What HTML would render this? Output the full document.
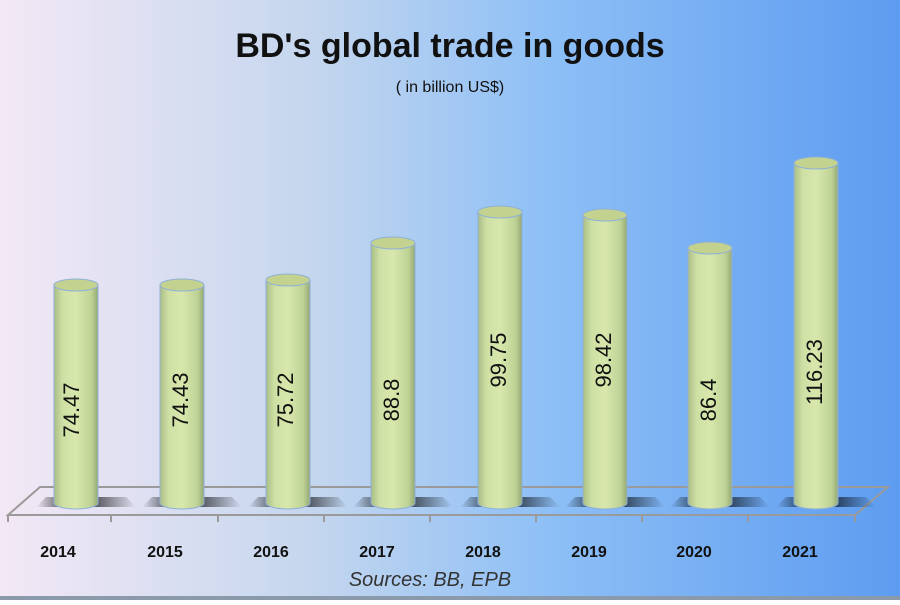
<!DOCTYPE html>
<html><head><style>
body{margin:0;width:900px;height:600px;overflow:hidden}
</style></head><body>
<svg width="900" height="600" xmlns="http://www.w3.org/2000/svg" font-family="Liberation Sans, sans-serif">
<defs>
<linearGradient id="bg" x1="0" x2="1" y1="0" y2="0">
<stop offset="0" stop-color="#f3e8f5"/><stop offset="0.35" stop-color="#c4d6ee"/><stop offset="0.6" stop-color="#8fc0f6"/><stop offset="1" stop-color="#5d9cf0"/></linearGradient>
<linearGradient id="cyl" x1="0" x2="1">
<stop offset="0" stop-color="#a9bd86"/><stop offset="0.2" stop-color="#cfe0a4"/><stop offset="0.5" stop-color="#d8e8ad"/><stop offset="0.85" stop-color="#bfd295"/><stop offset="1" stop-color="#94a873"/></linearGradient>
<linearGradient id="sh" x1="0" x2="1"><stop offset="0" stop-color="#000" stop-opacity="0"/><stop offset="0.4" stop-color="#000" stop-opacity="0.9"/><stop offset="1" stop-color="#000" stop-opacity="0"/></linearGradient>
</defs>
<rect width="900" height="600" fill="url(#bg)"/>
<rect y="596" width="900" height="4" fill="#8a9aaa"/>
<text x="450" y="57" text-anchor="middle" font-size="34" font-weight="bold" fill="#111">BD's global trade in goods</text>
<text x="450" y="92" text-anchor="middle" font-size="16" fill="#111">( in billion US$)</text>
<polygon points="40,487 888,487 855,515 8,515" fill="none" stroke="#9a9a9a" stroke-width="2"/>
<g stroke="#9a9a9a" stroke-width="2">
<line x1="8" y1="515" x2="8" y2="522"/><line x1="111" y1="515" x2="111" y2="522"/><line x1="218" y1="515" x2="218" y2="522"/><line x1="324" y1="515" x2="324" y2="522"/><line x1="430" y1="515" x2="430" y2="522"/><line x1="536" y1="515" x2="536" y2="522"/><line x1="642" y1="515" x2="642" y2="522"/><line x1="748" y1="515" x2="748" y2="522"/><line x1="855" y1="515" x2="855" y2="522"/>
</g>
<g fill="url(#sh)">
<polygon points="36,507 136,507 126,497 46,497"/>
<polygon points="142,507 242,507 232,497 152,497"/>
<polygon points="248,507 348,507 338,497 258,497"/>
<polygon points="353,507 453,507 443,497 363,497"/>
<polygon points="460,507 560,507 550,497 470,497"/>
<polygon points="565,507 665,507 655,497 575,497"/>
<polygon points="670,507 770,507 760,497 680,497"/>
<polygon points="776,507 876,507 866,497 786,497"/>
</g>
<g fill="url(#cyl)" stroke="#8fb0d8" stroke-width="1">
<path d="M54,285 L54,503 A22,6 0 0 0 98,503 L98,285 Z"/>
<path d="M160,285 L160,503 A22,6 0 0 0 204,503 L204,285 Z"/>
<path d="M266,280 L266,503 A22,6 0 0 0 310,503 L310,280 Z"/>
<path d="M371,243 L371,503 A22,6 0 0 0 415,503 L415,243 Z"/>
<path d="M478,212 L478,503 A22,6 0 0 0 522,503 L522,212 Z"/>
<path d="M583,215 L583,503 A22,6 0 0 0 627,503 L627,215 Z"/>
<path d="M688,248 L688,503 A22,6 0 0 0 732,503 L732,248 Z"/>
<path d="M794,163 L794,503 A22,6 0 0 0 838,503 L838,163 Z"/>
</g>
<g fill="#c3d28e" stroke="#8fb0d8" stroke-width="1">
<ellipse cx="76" cy="285" rx="22" ry="6"/>
<ellipse cx="182" cy="285" rx="22" ry="6"/>
<ellipse cx="288" cy="280" rx="22" ry="6"/>
<ellipse cx="393" cy="243" rx="22" ry="6"/>
<ellipse cx="500" cy="212" rx="22" ry="6"/>
<ellipse cx="605" cy="215" rx="22" ry="6"/>
<ellipse cx="710" cy="248" rx="22" ry="6"/>
<ellipse cx="816" cy="163" rx="22" ry="6"/>
</g>
<g font-size="22" fill="#111" text-anchor="middle">
<text transform="translate(79,410) rotate(-90)">74.47</text>
<text transform="translate(188,400) rotate(-90)">74.43</text>
<text transform="translate(293,400) rotate(-90)">75.72</text>
<text transform="translate(399,400) rotate(-90)">88.8</text>
<text transform="translate(506,360) rotate(-90)">99.75</text>
<text transform="translate(611,360) rotate(-90)">98.42</text>
<text transform="translate(716,400) rotate(-90)">86.4</text>
<text transform="translate(822,372) rotate(-90)">116.23</text>
</g>
<g font-size="16" font-weight="bold" fill="#111" text-anchor="middle">
<text x="58" y="557">2014</text>
<text x="165" y="557">2015</text>
<text x="271" y="557">2016</text>
<text x="377" y="557">2017</text>
<text x="483" y="557">2018</text>
<text x="589" y="557">2019</text>
<text x="694" y="557">2020</text>
<text x="800" y="557">2021</text>
</g>
<text x="430" y="586" text-anchor="middle" font-size="20" font-style="italic" fill="#333">Sources: BB, EPB</text>
</svg>
</body></html>
